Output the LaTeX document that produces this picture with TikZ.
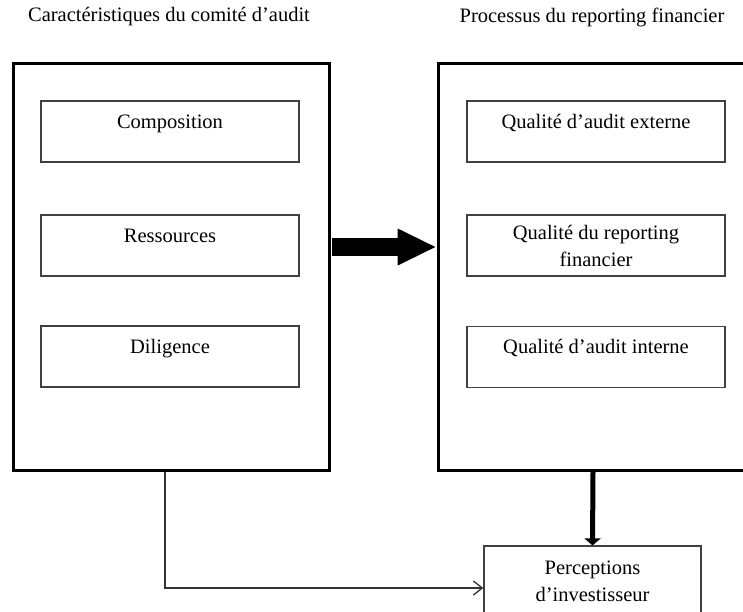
\documentclass[tikz,border=0pt]{standalone}
\usepackage{fontspec}
\setmainfont{Liberation Serif}
\usetikzlibrary{arrows.meta}

\begin{document}
\begin{tikzpicture}[x=1pt,y=-1pt,
  every node/.style={font=\fontsize{20.5}{27}\selectfont},
  title/.style={inner sep=0pt},
  outerbox/.style={draw, line width=3pt},
  itembox/.style={draw=black!75, line width=1.2pt, minimum width=258pt, minimum height=61pt,
    inner sep=4pt, text height=18pt, text depth=25pt, align=center},
  twolines/.style={text height=42pt, text depth=1pt},
  bigarrow/.style={line width=18pt, -{Triangle[length=39pt,width=34pt]}, shorten <=1.5pt},
  downarrow/.style={line width=5pt, -{Triangle[length=7pt,width=16pt]}},
  thinarrow/.style={draw=black!80, line width=1.3pt, -{Straight Barb[length=9pt,width=14pt]}}]
\useasboundingbox (0,0) rectangle (743,611);
\clip (0,0) rectangle (743,611);
% titres
\node[title] (tcar) at (169,17) {Caractéristiques du comité d’audit};
\node[title] (tproc) at (592,17) {Processus du reporting financier};
% cadres
\node[outerbox, minimum width=316pt, minimum height=407pt] (lbox) at (171,266.5) {};
\node[outerbox, minimum width=310pt, minimum height=407pt] (rbox) at (593,266.5) {};
\node[itembox] (compo) at (170,131.5) {Composition};
\node[itembox] (ress) at (170,245.5) {Ressources};
\node[itembox] (dili) at (170,356.5) {Diligence};
\node[itembox] (qext) at (596,131.5) {Qualité d’audit externe};
\node[itembox, twolines] (qrep) at (596,245.5) {Qualité du reporting\\financier};
\node[itembox] (qint) at (596,357) {Qualité d’audit interne};
\node[itembox, twolines, minimum width=217pt, minimum height=84pt, text depth=15pt] (percep) at (592.5,588) {Perceptions\\d’investisseur};
% fleches
\draw[bigarrow] ([yshift=19.5pt]lbox.east) -- ([yshift=19.5pt]rbox.west);
\draw[downarrow] (rbox.south) -- (percep.north);
\draw[thinarrow] ([xshift=-6pt]lbox.south) |- (percep.west);
\end{tikzpicture}
\end{document}
